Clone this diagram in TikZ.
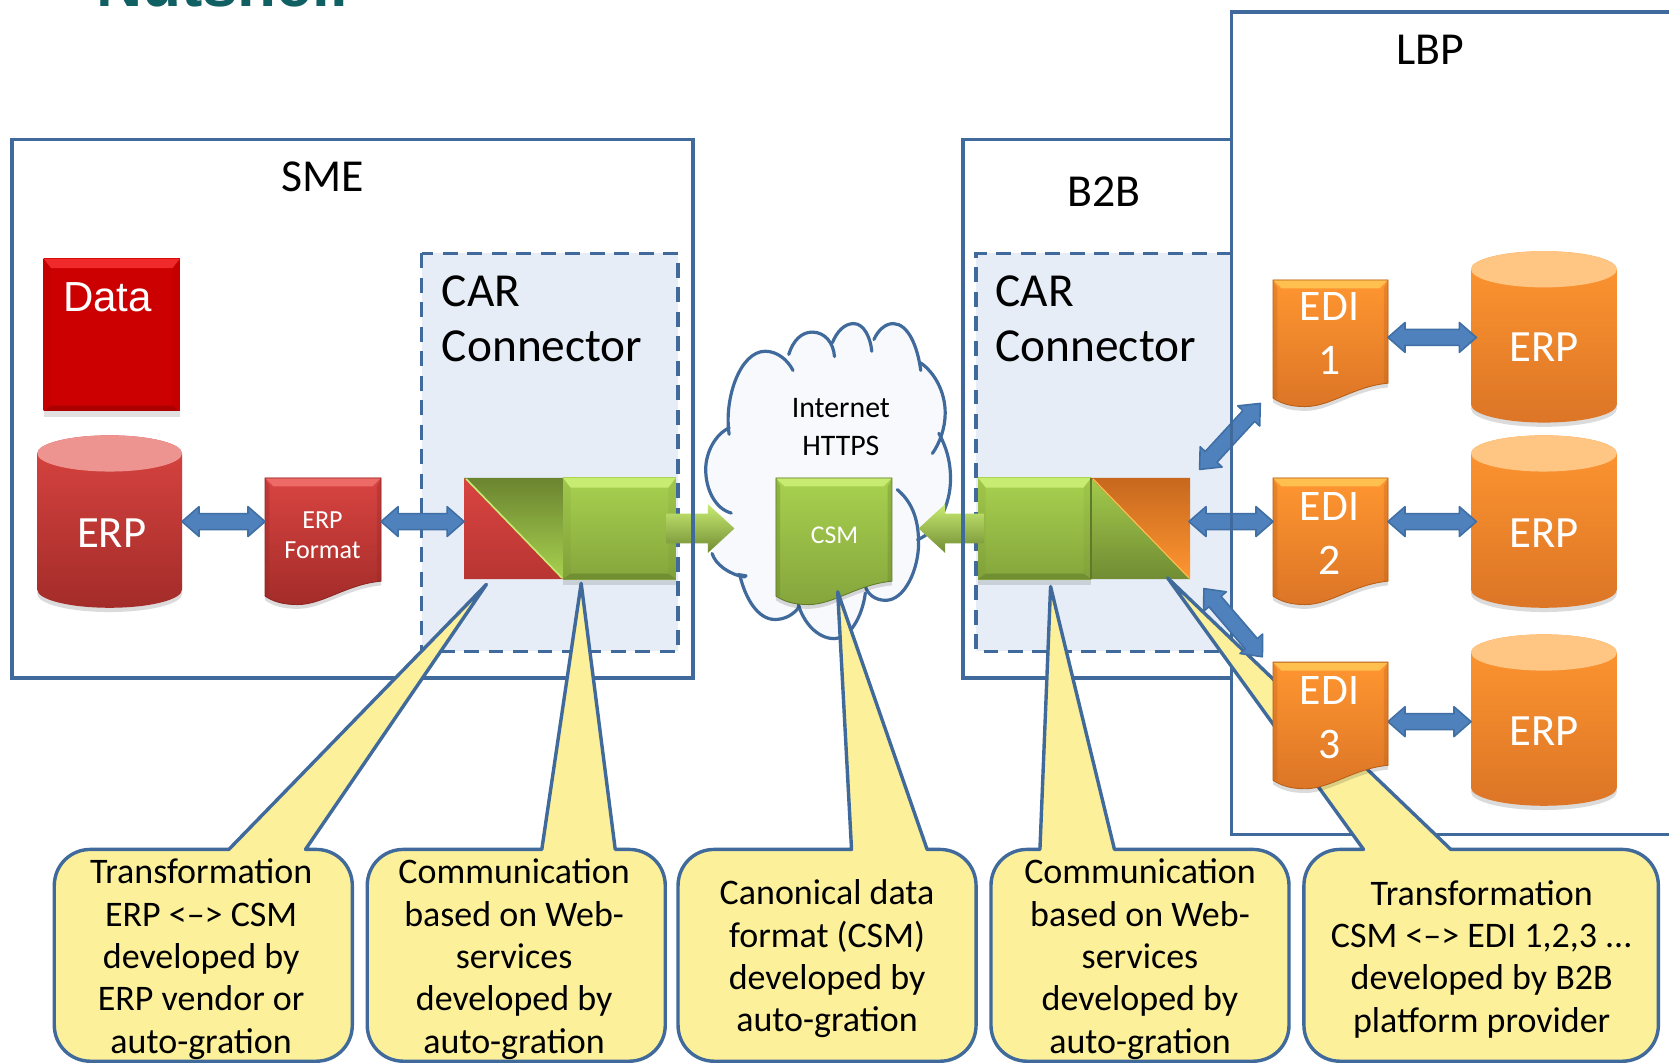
\documentclass[tikz,border=0pt]{standalone}
\usepackage{fontspec}
\setmainfont{Carlito}
\newfontfamily\arialf{Liberation Sans}
\usetikzlibrary{calc}
\definecolor{frameblue}{HTML}{3F6A9B}
\definecolor{arrowfill}{HTML}{4F81BD}
\definecolor{arrowedge}{HTML}{3F6FA5}
\definecolor{calloutfill}{HTML}{FCF09B}
\definecolor{carfill}{HTML}{E6EDF6}
\definecolor{cloudfill}{HTML}{F7F9FC}
\definecolor{titleteal}{HTML}{0F5F63}
\definecolor{redT}{HTML}{D94441}\definecolor{redB}{HTML}{A32C29}\definecolor{redH}{HTML}{EE6A67}\definecolor{redL}{HTML}{8E2624}\definecolor{redC}{HTML}{EE9490}
\definecolor{grnT}{HTML}{A8D14F}\definecolor{grnB}{HTML}{85A53C}\definecolor{grnH}{HTML}{C8EB72}\definecolor{grnL}{HTML}{5F7B2A}
\definecolor{orgT}{HTML}{FF9631}\definecolor{orgB}{HTML}{DC7526}\definecolor{orgH}{HTML}{FFC04F}\definecolor{orgL}{HTML}{B85F18}\definecolor{orgC}{HTML}{FFC583}
\definecolor{datT}{HTML}{CC0000}\definecolor{datB}{HTML}{CC0000}\definecolor{datH}{HTML}{F02A2A}\definecolor{datL}{HTML}{930000}
\newcommand\fs[2]{\fontsize{#1}{#2}\selectfont}
\tikzset{
  x=1pt,y=-1pt,
  framebox/.style={draw=frameblue,line width=3.4pt},
  dashbox/.style={draw=frameblue,line width=3.4pt,dash pattern=on 14pt off 9pt},
  anchorbox/.style={rectangle,inner sep=0pt,outer sep=0pt},
  heading/.style={text=black,font=\fs{43}{52}},
  carlabel/.style={text=black,font=\fs{44.5}{52},align=left,anchor=north west,inner sep=0pt},
  wlabel/.style={text=white,align=center,inner sep=0pt},
  calltext/.style={text=black,font=\fs{33.8}{39.8},align=center,inner sep=0pt},
  dblstyle/.style={fill=arrowfill,draw=arrowedge,line width=1.5pt,line join=round},
  grnarrow/.style={top color=grnH,bottom color=grnB!85!black,draw=none},
  calloutshape/.style={fill=calloutfill,draw=frameblue,line width=3.2pt,line join=round},
  cloudline/.style={draw=frameblue,line width=3pt,line cap=round},
}
% bevelled box: name x0 y0 x1 y1 family
\newcommand\bevelbox[6]{%
  \pgfmathsetmacro\bxa{#2+7}\pgfmathsetmacro\bxb{#4-7}%
  \pgfmathsetmacro\bya{#3+9}\pgfmathsetmacro\byb{#5-5}%
  \fill[black,opacity=.12] (#2,#3+4) rectangle (#4,#5+6);
  \shade[top color=#6T,bottom color=#6B] (#2,#3) rectangle (#4,#5);
  \fill[#6H] (#2,#3) -- (#4,#3) -- (\bxb,\bya) -- (\bxa,\bya) -- cycle;
  \fill[#6L,opacity=.55] (#2,#5) -- (#4,#5) -- (\bxb,\byb) -- (\bxa,\byb) -- cycle;
  \fill[#6L,opacity=.1] (#2,#3) -- (\bxa,\bya) -- (\bxa,\byb) -- (#2,#5) -- cycle;
  \fill[#6L,opacity=.1] (#4,#3) -- (\bxb,\bya) -- (\bxb,\byb) -- (#4,#5) -- cycle;
  \pgfmathsetmacro\cxa{(#2+#4)/2}\pgfmathsetmacro\cya{(#3+#5)/2}%
  \pgfmathsetmacro\wa{#4-#2}\pgfmathsetmacro\ha{#5-#3}%
  \node[anchorbox,minimum width=\wa pt,minimum height=\ha pt] (#1) at (\cxa,\cya) {};
}
% document: name x0 y0 x1 family
\newcommand\docshape[5]{%
  \pgfmathsetmacro\dw{#4-#2}%
  \pgfmathsetmacro\da{#3+97}\pgfmathsetmacro\db{#3+100}\pgfmathsetmacro\dc{#3+119}\pgfmathsetmacro\dd{#3+116}\pgfmathsetmacro\de{#3+111}%
  \pgfmathsetmacro\dx{#2+.70*\dw}\pgfmathsetmacro\dy{#2+.50*\dw}\pgfmathsetmacro\dz{#2+.28*\dw}\pgfmathsetmacro\dq{#2+.15*\dw}\pgfmathsetmacro\dr{#2+.07*\dw}%
  \pgfmathsetmacro\dta{#2+8}\pgfmathsetmacro\dtb{#4-8}\pgfmathsetmacro\dtc{#3+8}%
  \pgfmathsetmacro\dsa{#2+4}\pgfmathsetmacro\dsb{#4-4}%
  \def\docpath{(#2,#3) -- (#4,#3) -- (#4,\da) .. controls (\dx,\db) and (\dy,\dc) .. (\dz,\dc) .. controls (\dq,\dc) and (\dr,\dd) .. (#2,\de) -- cycle}%
  \begin{scope}[yshift=-4pt]\fill[black,opacity=.14] \docpath;\end{scope}
  \shade[top color=#5T,bottom color=#5B] \docpath;
  \fill[#5H] (#2,#3) -- (#4,#3) -- (\dtb,\dtc) -- (\dta,\dtc) -- cycle;
  \fill[#5L,opacity=.3] (#2,#3) -- (\dsa,\dtc) -- (\dsa,\de) -- (#2,\de) -- cycle;
  \fill[#5L,opacity=.3] (#4,#3) -- (\dsb,\dtc) -- (\dsb,\da) -- (#4,\da) -- cycle;
  \draw[#5L,line width=.8pt] \docpath;
  \pgfmathsetmacro\cxa{(#2+#4)/2}\pgfmathsetmacro\cya{#3+59.5}%
  \node[anchorbox,minimum width=\dw pt,minimum height=119pt] (#1) at (\cxa,\cya) {};
}
% cylinder: name x0 yt x1 yb family
\newcommand\cylshape[6]{%
  \pgfmathsetmacro\cm{(#2+#4)/2}\pgfmathsetmacro\crx{(#4-#2)/2}%
  \pgfmathsetmacro\cka{#2+.4477*\crx}\pgfmathsetmacro\ckb{#4-.4477*\crx}%
  \pgfmathsetmacro\cyt{#3+17}\pgfmathsetmacro\cyb{#5-17}%
  \pgfmathsetmacro\cua{#3+7.6}\pgfmathsetmacro\cub{#3+26.4}\pgfmathsetmacro\cuc{#3+34}%
  \pgfmathsetmacro\cva{#5-7.6}%
  \def\cylpath{(#2,\cyt) -- (#2,\cyb) .. controls (#2,\cva) and (\cka,#5) .. (\cm,#5) .. controls (\ckb,#5) and (#4,\cva) .. (#4,\cyb) -- (#4,\cyt) .. controls (#4,\cua) and (\ckb,#3) .. (\cm,#3) .. controls (\cka,#3) and (#2,\cua) .. (#2,\cyt) -- cycle}%
  \begin{scope}[yshift=-4pt]\fill[black,opacity=.14] \cylpath;\end{scope}
  \shade[top color=#6T,bottom color=#6B] \cylpath;
  \fill[#6C] (#2,\cyt) .. controls (#2,\cua) and (\cka,#3) .. (\cm,#3) .. controls (\ckb,#3) and (#4,\cua) .. (#4,\cyt) .. controls (#4,\cub) and (\ckb,\cuc) .. (\cm,\cuc) .. controls (\cka,\cuc) and (#2,\cub) .. (#2,\cyt) -- cycle;
  \pgfmathsetmacro\cc{(#3+#5)/2}\pgfmathsetmacro\wa{#4-#2}\pgfmathsetmacro\ha{#5-#3}%
  \node[anchorbox,minimum width=\wa pt,minimum height=\ha pt] (#1) at (\cm,\cc) {};
}
% block double arrow between two named points
\newcommand\dblarrow[2]{%
  \draw[dblstyle] (#1)
    -- ($(#1)!16pt!(#2)!14pt!90:(#2)$)
    -- ($(#1)!16pt!(#2)!7.5pt!90:(#2)$)
    -- ($(#2)!16pt!(#1)!7.5pt!-90:(#1)$)
    -- ($(#2)!16pt!(#1)!14pt!-90:(#1)$)
    -- (#2)
    -- ($(#2)!16pt!(#1)!14pt!90:(#1)$)
    -- ($(#2)!16pt!(#1)!7.5pt!90:(#1)$)
    -- ($(#1)!16pt!(#2)!7.5pt!-90:(#2)$)
    -- ($(#1)!16pt!(#2)!14pt!-90:(#2)$)
    -- cycle;
}
% green single block arrow from #1 (tail) to #2 (tip)
\newcommand\grnblock[2]{%
  \path[grnarrow] ($(#1)!14pt!-90:(#2)$)
    -- ($(#2)!25pt!(#1)!14pt!90:(#1)$)
    -- ($(#2)!25pt!(#1)!23pt!90:(#1)$)
    -- (#2)
    -- ($(#2)!25pt!(#1)!23pt!-90:(#1)$)
    -- ($(#2)!25pt!(#1)!14pt!-90:(#1)$)
    -- ($(#1)!14pt!90:(#2)$)
    -- cycle;
}
% callout: x0 x1 tail-left tip-x tip-y tail-right
\newcommand\callout[6]{%
  \pgfmathsetmacro\cra{#1+34}\pgfmathsetmacro\crb{#1+15}%
  \pgfmathsetmacro\crc{#2-34}\pgfmathsetmacro\crd{#2-15}%
  \draw[calloutshape] (#6,798) -- (\crc,798) .. controls (\crd,798) and (#2,813) .. (#2,832)
    -- (#2,963) .. controls (#2,982) and (\crd,997) .. (\crc,997)
    -- (\cra,997) .. controls (\crb,997) and (#1,982) .. (#1,963)
    -- (#1,832) .. controls (#1,813) and (\crb,798) .. (\cra,798)
    -- (#3,798) -- (#4,#5) -- cycle;
}
\def\lobeA{(687,482) .. controls (672,478) and (663,460) .. (663,441) .. controls (663,425) and (672,408) .. (685,402)}
\def\lobeB{(685,408) .. controls (680,375) and (695,330) .. (719,330) .. controls (730,330) and (740,338) .. (745,348)}
\def\lobeC{(741,333) .. controls (745,320) and (753,312) .. (763,312) .. controls (775,312) and (783,322) .. (784,335)}
\def\lobeD{(782,322) .. controls (786,312) and (793,304) .. (802,304) .. controls (812,304) and (818,318) .. (819,330)}
\def\lobeE{(821,319) .. controls (825,310) and (832,304) .. (839,304) .. controls (853,304) and (862,325) .. (865,348)}
\def\lobeF{(865,341) .. controls (878,350) and (888,368) .. (888,388) .. controls (888,402) and (883,416) .. (876,426)}
\def\lobeG{(882,407) .. controls (889,420) and (893,433) .. (893,450) .. controls (893,475) and (880,500) .. (862,507)}
\def\lobeH{(863,510) .. controls (863,535) and (850,564) .. (832,564) .. controls (822,564) and (815,558) .. (813,551)}
\def\lobeI{(813,557) .. controls (810,580) and (798,600) .. (784,600) .. controls (768,600) and (755,585) .. (750,568)}
\def\lobeJ{(751,570) .. controls (745,578) and (737,582) .. (728,582) .. controls (712,582) and (700,562) .. (695,540) -- (701,541)}
\def\lobeK{(700,542) .. controls (685,540) and (672,530) .. (669,520)}
\begin{document}
\begin{tikzpicture}
\useasboundingbox (0,0) rectangle (1568,998.7);
\clip (0,0) rectangle (1568,998.7);
\fill[white] (0,0) rectangle (1568,998.7);
\node[anchor=base west,inner sep=0pt,text=titleteal,font=\arialf\bfseries\fs{60}{60}] (title) at (90,6) {Nutshell};

% CAR areas
\fill[carfill] (396,238) rectangle (637,612);
\draw[dashbox] (396,238) rectangle (637,612);
\fill[carfill] (917,238) rectangle (1157,612);
\draw[dashbox] (1157,238) -- (917,238) -- (917,612) -- (1157,612);

% Cloud
\fill[cloudfill] \lobeA -- \lobeB -- \lobeC -- \lobeD -- \lobeE -- \lobeF -- \lobeG -- \lobeH -- \lobeI -- \lobeJ -- \lobeK -- cycle;
\draw[cloudline] \lobeA;
\draw[cloudline] \lobeB;
\draw[cloudline] \lobeC;
\draw[cloudline] \lobeD;
\draw[cloudline] \lobeE;
\draw[cloudline] \lobeF;
\draw[cloudline] \lobeG;
\draw[cloudline] (843,460) .. controls (855,470) and (863,485) .. \lobeH;
\draw[cloudline] \lobeI;
\draw[cloudline] \lobeJ;
\draw[cloudline] \lobeK;
\node[text=black,font=\fs{28}{36},align=center,inner sep=0pt] (internet) at (790,401) {Internet\\HTTPS};

% Shapes
\bevelbox{datab}{41}{243}{169}{386}{dat}
\node[anchor=center,inner sep=0pt,text=white,font=\arialf\fs{39.5}{39.5}] (datat) at (101,279) {Data};
\cylshape{erpL}{35}{409}{171}{571}{red}
\node[wlabel,font=\fs{42}{50}] (erpLt) at (105,501) {ERP};
\docshape{fmt}{249}{449}{358}{red}
\node[wlabel,font=\fs{24.5}{28}] (fmtt) at (303,503) {ERP\\Format};

% Left converter
\shade[top color=redT,bottom color=redB!60!redT] (436,449) -- (436,544) -- (529,544) -- cycle;
\shade[top color=grnB!80!black,bottom color=grnT] (436,449) -- (529,449) -- (529,544) -- cycle;
\draw[grnH,line width=1.5pt] (438,450) -- (528,543);
\node[anchorbox,minimum width=93pt,minimum height=95pt] (convL) at (482.5,496.5) {};
\bevelbox{gbL}{529}{449}{635}{544}{grn}

% CSM
\docshape{csm}{729}{449}{838}{grn}
\node[wlabel,font=\fs{24}{28}] (csmt) at (784,503) {CSM};

% Right converter
\bevelbox{gbR}{919}{449}{1025}{544}{grn}
\shade[top color=grnT!85!grnB,bottom color=grnB!85!black] (1025,449) -- (1025,544) -- (1118,544) -- cycle;
\shade[top color=orgL!60!orgB,bottom color=orgT] (1025,449) -- (1118,449) -- (1118,544) -- cycle;
\draw[orgH,line width=1pt] (1027,450) -- (1117,543);
\draw[grnL,line width=1.5pt] (1025,449) -- (1025,544);
\node[anchorbox,minimum width=93pt,minimum height=95pt] (convR) at (1071.5,496.5) {};

% LBP shapes
\docshape{edia}{1196}{263}{1304}{org}
\docshape{edib}{1196}{449}{1304}{org}
\cylshape{erpA}{1382}{236}{1519}{397}{org}
\cylshape{erpB}{1382}{409}{1519}{571}{org}
\cylshape{erpC}{1382}{596}{1519}{757}{org}
\node[wlabel,font=\fs{41}{51}] (ediat) at (1249,313) {EDI\\1};
\node[wlabel,font=\fs{41}{51}] (edibt) at (1249,501) {EDI\\2};
\node[wlabel,font=\fs{42}{50}] (erpAt) at (1451,326) {ERP};
\node[wlabel,font=\fs{42}{50}] (erpBt) at (1451,501) {ERP};
\node[wlabel,font=\fs{42}{50}] (erpCt) at (1451,687) {ERP};

% anchors of the connectors
\coordinate (a1a) at (erpL.east);
\coordinate (a1b) at (fmt.west |- erpL.east);
\coordinate (a2a) at (fmt.east |- erpL.east);
\coordinate (a2b) at (convL.west |- erpL.east);
\coordinate (a3a) at ($(convR.east |- erpL.east)+(-1,0)$);
\coordinate (a3b) at (edib.west |- erpL.east);
\coordinate (a4a) at (1304,317);
\coordinate (a4b) at (1387,317);
\coordinate (a5a) at (edib.east |- erpB.east);
\coordinate (a5b) at ($(erpB.west)+(5,0)$);
\coordinate (a6a) at (1304,678);
\coordinate (a6b) at (erpC.west |- a6a);
\coordinate (a7a) at (1127,441);
\coordinate (a7b) at (1184,379);
\coordinate (a8a) at (1131,553);
\coordinate (a8b) at (1186,617);
\coordinate (gtailL) at ($(gbL.east)+(-9,0)$);
\coordinate (gtipL) at (690,496.5);
\coordinate (gtailR) at ($(gbR.west)+(6,0)$);
\coordinate (gtipR) at (863,496.5);

% arrows
\grnblock{gtailL}{gtipL}
\grnblock{gtailR}{gtipR}
\dblarrow{a1a}{a1b}
\dblarrow{a2a}{a2b}
\dblarrow{a3a}{a3b}
\dblarrow{a4a}{a4b}
\dblarrow{a5a}{a5b}
\dblarrow{a6a}{a6b}
\dblarrow{a7a}{a7b}

% frames
\draw[framebox] (11,131) rectangle (651,637);
\draw[framebox] (1157,637) -- (905,637) -- (905,131) -- (1157,131);
\draw[framebox] (1580,784) -- (1157,784) -- (1157,11) -- (1580,11);

% headings
\node[heading,inner sep=0pt] (sme) at (303,166) {SME};
\node[heading,inner sep=0pt] (btob) at (1037,180) {B2B};
\node[heading,inner sep=0pt] (lbp) at (1344,47) {LBP};
\node[carlabel] (carL) at (415,259) {CAR\\Connector};
\node[carlabel] (carR) at (935,259) {CAR\\Connector};

% callouts
\callout{51}{331}{215}{457}{549}{287}
\callout{345}{625}{509}{546}{548}{578}
\callout{637}{917}{800}{787}{556}{871}
\callout{931}{1211}{977}{987}{551}{1047}
\callout{1225}{1558}{1281}{1097}{543}{1363}
\node[calltext] (ta) at (189,901) {Transformation\\ERP <–> CSM\\developed by\\ERP vendor or\\auto-gration};
\node[calltext] (tb) at (483,901) {Communication\\based on Web-\\services\\developed by\\auto-gration};
\node[calltext] (tc) at (777,901) {Canonical data\\format (CSM)\\developed by\\auto-gration};
\node[calltext] (td) at (1071,901) {Communication\\based on Web-\\services\\developed by\\auto-gration};
\node[calltext] (te) at (1392,901) {Transformation\\CSM <–> EDI 1,2,3 ...\\developed by B2B\\platform provider};

% EDI 3 and its arrow lie on the last callout's tail
\dblarrow{a8a}{a8b}
\docshape{edi3}{1196}{622}{1304}{org}
\node[wlabel,font=\fs{41}{51}] (edict) at (1249,674) {EDI\\3};
\end{tikzpicture}
\end{document}
